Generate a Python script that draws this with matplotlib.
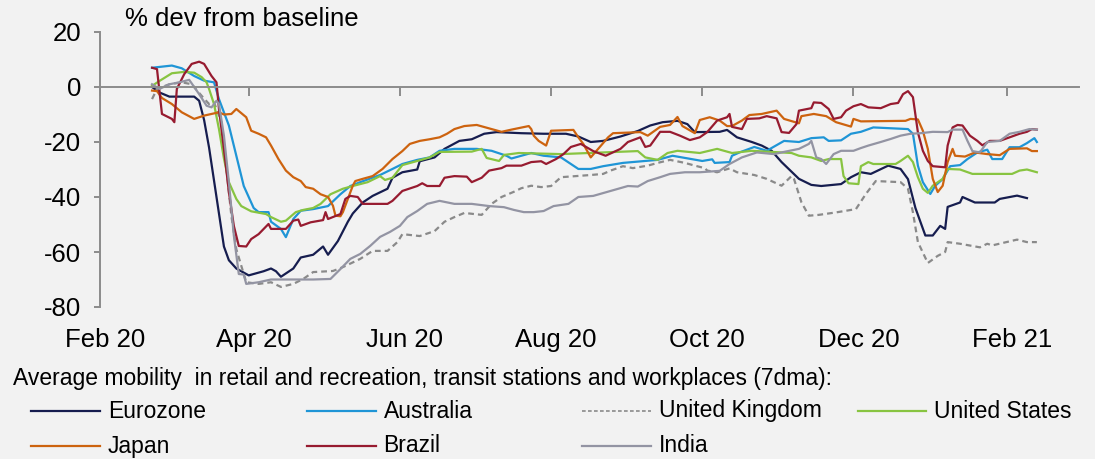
import matplotlib
matplotlib.use("Agg")
import matplotlib.pyplot as plt
import matplotlib.dates as mdates
import pandas as pd
from matplotlib.lines import Line2D
from matplotlib.transforms import blended_transform_factory

plt.rcParams['font.family'] = ['Liberation Sans', 'DejaVu Sans']
plt.rcParams['axes.unicode_minus'] = False

# ---- data: % deviation from baseline, 7dma ----
ez_dates = ["2020-02-22", "2020-02-25", "2020-02-29", "2020-03-10", "2020-03-12", "2020-03-14", "2020-03-16",
            "2020-03-20", "2020-03-22", "2020-03-24", "2020-03-27", "2020-04-01", "2020-04-07", "2020-04-10",
            "2020-04-12", "2020-04-14", "2020-04-19", "2020-04-22", "2020-04-27", "2020-05-01", "2020-05-03",
            "2020-05-07", "2020-05-11", "2020-05-13", "2020-05-17", "2020-05-21", "2020-05-27", "2020-05-29",
            "2020-06-02", "2020-06-08", "2020-06-09", "2020-06-15", "2020-06-19", "2020-06-25", "2020-06-30",
            "2020-07-05", "2020-07-10", "2020-07-20", "2020-07-29", "2020-08-07", "2020-08-12", "2020-08-17",
            "2020-08-22", "2020-08-29", "2020-09-05", "2020-09-10", "2020-09-15", "2020-09-21", "2020-09-25",
            "2020-09-28", "2020-10-08", "2020-10-11", "2020-10-15", "2020-10-21", "2020-10-25", "2020-10-29",
            "2020-11-02", "2020-11-09", "2020-11-14", "2020-11-18", "2020-11-26", "2020-11-30", "2020-12-04",
            "2020-12-08", "2020-12-15", "2020-12-20", "2020-12-23", "2020-12-26", "2020-12-30", "2021-01-02",
            "2021-01-05", "2021-01-07", "2021-01-08", "2021-01-13", "2021-01-14", "2021-01-19", "2021-01-27",
            "2021-01-29", "2021-02-05", "2021-02-09"]
ez_vals = [0, -2, -3.5, -3.5, -5, -12, -22, -46, -58, -63, -66, -68.5, -67, -66, -67, -69, -66, -62, -61, -58,
           -61, -56, -49, -46, -42, -39.6, -37, -33, -31, -30, -27, -25.6, -22.5, -19.6, -19, -17, -16.4, -16.8,
           -17, -17, -18, -20, -19.6, -18, -16, -14, -12.8, -12.3, -13.5, -16.4, -16.3, -15.6, -18.3, -20,
           -21.3, -23.2, -27.3, -33.4, -35.6, -36, -35.3, -32.8, -31, -31.6, -28.6, -29.8, -33.5, -44, -54, -54,
           -50.5, -51.6, -43.6, -42, -40, -42, -42, -40.7, -39.5, -40.4]

au_dates = ["2020-02-22", "2020-03-01", "2020-03-05", "2020-03-10", "2020-03-14", "2020-03-18", "2020-03-20",
            "2020-03-24", "2020-03-27", "2020-03-30", "2020-04-03", "2020-04-05", "2020-04-09", "2020-04-10",
            "2020-04-14", "2020-04-16", "2020-04-19", "2020-04-22", "2020-04-27", "2020-05-03", "2020-05-08",
            "2020-05-12", "2020-05-16", "2020-05-24", "2020-05-29", "2020-06-02", "2020-06-08", "2020-06-13",
            "2020-06-17", "2020-06-23", "2020-07-02", "2020-07-08", "2020-07-14", "2020-07-16", "2020-07-24",
            "2020-07-29", "2020-08-05", "2020-08-09", "2020-08-12", "2020-08-17", "2020-08-22", "2020-08-30",
            "2020-09-13", "2020-09-19", "2020-10-01", "2020-10-05", "2020-10-06", "2020-10-12", "2020-10-13",
            "2020-10-16", "2020-10-22", "2020-10-27", "2020-11-03", "2020-11-09", "2020-11-14", "2020-11-19",
            "2020-11-21", "2020-11-26", "2020-11-30", "2020-12-04", "2020-12-09", "2020-12-23", "2020-12-25",
            "2020-12-27", "2020-12-29", "2021-01-01", "2021-01-03", "2021-01-06", "2021-01-09", "2021-01-13",
            "2021-01-16", "2021-01-20", "2021-01-24", "2021-01-26", "2021-01-30", "2021-02-02", "2021-02-06",
            "2021-02-09", "2021-02-12", "2021-02-13"]
au_vals = [7, 7.8, 6.8, 4, 2.3, 1.7, -4.4, -14, -25, -36, -44, -45.5, -45.5, -49, -51.6, -54.6, -48, -45, -44.4,
           -43.3, -39, -36, -34.6, -32, -29.8, -28, -26.5, -25.6, -23.2, -22.5, -22.5, -23.2, -25, -26, -24, -25,
           -25.6, -28, -29.8, -29.8, -28.8, -27.6, -26.5, -25, -26.9, -26.3, -27.6, -27.3, -25, -23.8, -21.8,
           -23.2, -19.6, -20, -18.6, -18.3, -19.6, -19.4, -17, -16.3, -14.7, -15.3, -17, -28.6, -34.6, -38.9,
           -35.9, -33.5, -28.8, -28.4, -26.2, -23.8, -22.8, -26.2, -26.2, -21.9, -21.9, -20.4, -18.6, -20]

uk_dates = ["2020-02-22", "2020-02-24", "2020-02-29", "2020-03-05", "2020-03-09", "2020-03-13", "2020-03-16",
            "2020-03-18", "2020-03-21", "2020-03-23", "2020-03-25", "2020-03-27", "2020-03-29", "2020-03-31",
            "2020-04-05", "2020-04-10", "2020-04-14", "2020-04-19", "2020-04-23", "2020-04-27", "2020-05-05",
            "2020-05-09", "2020-05-16", "2020-05-21", "2020-05-27", "2020-05-31", "2020-06-02", "2020-06-09",
            "2020-06-15", "2020-06-19", "2020-06-23", "2020-06-27", "2020-07-04", "2020-07-08", "2020-07-12",
            "2020-07-17", "2020-07-20", "2020-07-24", "2020-07-28", "2020-08-01", "2020-08-05", "2020-08-17",
            "2020-08-22", "2020-08-25", "2020-08-30", "2020-09-03", "2020-09-09", "2020-09-13", "2020-09-18",
            "2020-09-24", "2020-09-28", "2020-10-02", "2020-10-03", "2020-10-07", "2020-10-12", "2020-10-15",
            "2020-10-22", "2020-10-27", "2020-11-02", "2020-11-06", "2020-11-07", "2020-11-10", "2020-11-13",
            "2020-11-17", "2020-11-24", "2020-12-02", "2020-12-06", "2020-12-10", "2020-12-20", "2020-12-23",
            "2020-12-25", "2020-12-27", "2020-12-31", "2021-01-04", "2021-01-07", "2021-01-08", "2021-01-13",
            "2021-01-21", "2021-01-24", "2021-01-26", "2021-02-05", "2021-02-09", "2021-02-13"]
uk_vals = [-4.4, -0.7, 1, 1.7, 1, -3.2, -6.2, -5.6, -12.8, -29.8, -46.8, -59, -65, -71, -71.6, -71, -72.7,
           -71.6, -69.8, -67.3, -66.9, -65.5, -62.5, -59.6, -59.6, -56.4, -53.5, -54.2, -52.4, -49, -47.3,
           -45.8, -46.5, -42.5, -40, -38.1, -36.8, -35.9, -36.4, -36, -32.8, -32, -31.6, -30.4, -28.8, -29.5,
           -28.6, -27.6, -26.5, -27.6, -28.6, -29.5, -30.4, -31, -29.6, -31, -32, -33.4, -35.9, -32.4, -33.4,
           -41.9, -46.8, -46.5, -45.6, -44.4, -38.9, -34.2, -34.6, -37, -45.6, -56.4, -64, -61.4, -60, -56.4,
           -57, -58.3, -57, -57.6, -55.5, -56.4, -56.4]

us_dates = ["2020-02-22", "2020-02-25", "2020-03-01", "2020-03-06", "2020-03-10", "2020-03-13", "2020-03-15",
            "2020-03-16", "2020-03-18", "2020-03-20", "2020-03-22", "2020-03-24", "2020-03-27", "2020-03-29",
            "2020-04-02", "2020-04-08", "2020-04-10", "2020-04-14", "2020-04-16", "2020-04-20", "2020-04-23",
            "2020-04-27", "2020-04-30", "2020-05-04", "2020-05-09", "2020-05-13", "2020-05-19", "2020-05-24",
            "2020-05-26", "2020-05-29", "2020-06-02", "2020-06-08", "2020-06-13", "2020-06-17", "2020-06-30",
            "2020-07-04", "2020-07-06", "2020-07-11", "2020-07-13", "2020-07-19", "2020-08-05", "2020-09-05",
            "2020-09-08", "2020-09-13", "2020-09-17", "2020-09-21", "2020-09-30", "2020-10-07", "2020-10-13",
            "2020-10-21", "2020-11-06", "2020-11-09", "2020-11-14", "2020-11-18", "2020-11-21", "2020-11-26",
            "2020-11-27", "2020-11-29", "2020-12-03", "2020-12-04", "2020-12-07", "2020-12-09", "2020-12-18",
            "2020-12-20", "2020-12-23", "2020-12-25", "2020-12-27", "2020-12-29", "2020-12-31", "2021-01-02",
            "2021-01-06", "2021-01-08", "2021-01-13", "2021-01-18", "2021-02-03", "2021-02-06", "2021-02-09",
            "2021-02-13"]
us_vals = [0.4, 2.2, 5, 5.5, 5.2, 3.6, 1.7, -0.7, -6.2, -15.3, -26, -34.6, -40.7, -43.3, -45.2, -46.2, -47.3,
           -49, -48.6, -45.5, -44.7, -44, -42.5, -39, -37, -36, -34.6, -32.4, -33.8, -33, -28.4, -26.9, -25.6,
           -23.6, -23.5, -22.5, -25.8, -26.9, -24.7, -24, -24.4, -23.3, -25.6, -26.5, -24, -23.2, -24, -22.5,
           -24, -23.2, -24, -25, -25.6, -26.9, -26.2, -26.2, -32.4, -35, -35.3, -28.8, -27.3, -28, -28, -26.9,
           -25, -27.3, -32.8, -37, -38.5, -35.9, -33.4, -29.8, -30, -31.6, -31.6, -30.4, -30, -31]

jp_dates = ["2020-02-22", "2020-02-24", "2020-02-26", "2020-03-01", "2020-03-05", "2020-03-10", "2020-03-14",
            "2020-03-20", "2020-03-22", "2020-03-25", "2020-03-27", "2020-03-31", "2020-04-02", "2020-04-05",
            "2020-04-08", "2020-04-10", "2020-04-13", "2020-04-16", "2020-04-19", "2020-04-22", "2020-04-24",
            "2020-04-27", "2020-04-30", "2020-05-03", "2020-05-05", "2020-05-06", "2020-05-08", "2020-05-09",
            "2020-05-11", "2020-05-13", "2020-05-14", "2020-05-17", "2020-05-21", "2020-05-25", "2020-05-29",
            "2020-06-02", "2020-06-05", "2020-06-09", "2020-06-13", "2020-06-17", "2020-06-20", "2020-06-23",
            "2020-06-27", "2020-07-02", "2020-07-08", "2020-07-12", "2020-07-16", "2020-07-23", "2020-07-24",
            "2020-07-25", "2020-07-27", "2020-07-30", "2020-08-01", "2020-08-10", "2020-08-12", "2020-08-14",
            "2020-08-17", "2020-08-20", "2020-08-24", "2020-08-26", "2020-09-06", "2020-09-09", "2020-09-14",
            "2020-09-18", "2020-09-21", "2020-09-23", "2020-09-28", "2020-09-30", "2020-10-04", "2020-10-08",
            "2020-10-11", "2020-10-13", "2020-10-17", "2020-10-20", "2020-10-25", "2020-10-31", "2020-11-03",
            "2020-11-09", "2020-11-10", "2020-11-15", "2020-11-20", "2020-11-24", "2020-11-30", "2020-12-01",
            "2020-12-04", "2020-12-22", "2020-12-24", "2020-12-27", "2020-12-29", "2020-12-31", "2021-01-02",
            "2021-01-04", "2021-01-06", "2021-01-08", "2021-01-10", "2021-01-11", "2021-01-15", "2021-01-19",
            "2021-01-24", "2021-01-29", "2021-02-02", "2021-02-09", "2021-02-11", "2021-02-13"]
jp_vals = [-1.3, -1.5, -4, -6.2, -9.2, -11.6, -10.4, -9.2, -10, -9.8, -8, -11, -15.9, -17, -18.3, -21.3, -26.2,
           -30.4, -32.8, -34.2, -36.4, -37, -39, -40, -43.2, -46.8, -47, -45.5, -40.7, -35.9, -34.2, -33.4,
           -32.4, -29.8, -26.2, -23.3, -20.7, -19.6, -19, -18.3, -17, -15.3, -14.2, -13.8, -15.3, -16.3, -15.5,
           -14.2, -15.3, -17.7, -19.6, -21.3, -15.9, -15.6, -18.3, -20.7, -25.6, -22.5, -18.3, -16.8, -16.4,
           -17.7, -14.5, -13.8, -10.9, -14.2, -16.8, -12, -11, -12.2, -14.2, -14.2, -12.2, -10.2, -9.8, -8.6,
           -11.6, -13.2, -10.6, -9.8, -10.6, -12.8, -14.4, -11.6, -12.5, -12.3, -11.6, -11.8, -15.9, -22.5,
           -33.4, -38.2, -35.9, -27.3, -22.5, -25, -25.3, -23.8, -24.4, -24.8, -22.5, -22.3, -23.3, -23.3]

br_dates = ["2020-02-22", "2020-02-24", "2020-02-26", "2020-03-01", "2020-03-02", "2020-03-03", "2020-03-06",
            "2020-03-09", "2020-03-12", "2020-03-14", "2020-03-17", "2020-03-19", "2020-03-20", "2020-03-22",
            "2020-03-24", "2020-03-26", "2020-03-28", "2020-03-31", "2020-04-02", "2020-04-05", "2020-04-09",
            "2020-04-10", "2020-04-16", "2020-04-19", "2020-04-21", "2020-04-22", "2020-04-26", "2020-05-01",
            "2020-05-02", "2020-05-03", "2020-05-08", "2020-05-10", "2020-05-12", "2020-05-15", "2020-05-17",
            "2020-05-27", "2020-05-29", "2020-06-02", "2020-06-08", "2020-06-10", "2020-06-12", "2020-06-17",
            "2020-06-19", "2020-06-23", "2020-06-28", "2020-06-30", "2020-07-04", "2020-07-07", "2020-07-12",
            "2020-07-14", "2020-07-20", "2020-07-24", "2020-07-28", "2020-07-30", "2020-08-03", "2020-08-06",
            "2020-08-09", "2020-08-13", "2020-08-18", "2020-08-23", "2020-08-29", "2020-09-01", "2020-09-06",
            "2020-09-08", "2020-09-10", "2020-09-14", "2020-09-18", "2020-09-22", "2020-09-26", "2020-09-30",
            "2020-10-03", "2020-10-07", "2020-10-11", "2020-10-12", "2020-10-13", "2020-10-17", "2020-10-19",
            "2020-10-24", "2020-10-27", "2020-10-31", "2020-11-02", "2020-11-05", "2020-11-08", "2020-11-09",
            "2020-11-14", "2020-11-15", "2020-11-18", "2020-11-21", "2020-11-23", "2020-11-26", "2020-11-28",
            "2020-12-01", "2020-12-04", "2020-12-07", "2020-12-12", "2020-12-16", "2020-12-19", "2020-12-21",
            "2020-12-23", "2020-12-25", "2020-12-27", "2020-12-29", "2020-12-31", "2021-01-02", "2021-01-07",
            "2021-01-08", "2021-01-10", "2021-01-12", "2021-01-14", "2021-01-17", "2021-01-20", "2021-01-22",
            "2021-01-25", "2021-01-29", "2021-02-02", "2021-02-06", "2021-02-09", "2021-02-11", "2021-02-13"]
br_vals = [7, 6.5, -9.8, -11.6, -12.8, -0.7, 4.7, 8.4, 9.2, 8.4, 4, 1.7, -8, -22.5, -38.2, -50.5, -57.8, -58,
           -55.3, -53.5, -49.8, -51.6, -51.6, -48.6, -48.2, -50.5, -49.2, -48.4, -45.5, -48, -46.2, -40.7,
           -39.6, -40, -42.5, -42.5, -41.4, -37.8, -36, -35, -36, -36, -33, -32.4, -32.6, -34.6, -33, -30.4,
           -29.5, -28.6, -28.6, -27.3, -27, -28, -26.2, -24.4, -21.8, -20.7, -23.3, -25, -22.5, -20, -18.3,
           -21.8, -21.3, -16.3, -16.3, -17.7, -19.3, -18.3, -16.4, -12.2, -11, -9.8, -14.5, -15.3, -11.6, -11.4,
           -10.6, -11.4, -16.4, -16.7, -13.5, -8.6, -7.7, -5.6, -5.8, -8, -11.6, -11, -8.6, -7, -6.2, -7.4,
           -7.7, -6.2, -5.8, -2.6, -1.5, -3.7, -16.5, -23.2, -26.9, -28.8, -29.2, -21.3, -14.7, -13.8, -14,
           -17.7, -19.6, -21.2, -19.6, -19.6, -18.3, -17, -16.3, -15.3, -15.5]

in_dates = ["2020-02-22", "2020-02-25", "2020-02-29", "2020-03-04", "2020-03-08", "2020-03-10", "2020-03-12",
            "2020-03-15", "2020-03-17", "2020-03-19", "2020-03-20", "2020-03-22", "2020-03-24", "2020-03-26",
            "2020-03-28", "2020-03-30", "2020-03-31", "2020-04-05", "2020-04-10", "2020-04-27", "2020-05-04",
            "2020-05-08", "2020-05-12", "2020-05-16", "2020-05-20", "2020-05-24", "2020-05-28", "2020-06-01",
            "2020-06-04", "2020-06-08", "2020-06-12", "2020-06-17", "2020-06-23", "2020-06-30", "2020-07-07",
            "2020-07-13", "2020-07-17", "2020-07-21", "2020-07-25", "2020-07-29", "2020-08-02", "2020-08-08",
            "2020-08-12", "2020-08-18", "2020-08-25", "2020-09-01", "2020-09-05", "2020-09-09", "2020-09-14",
            "2020-09-18", "2020-09-24", "2020-09-30", "2020-10-08", "2020-10-12", "2020-10-17", "2020-10-23",
            "2020-10-30", "2020-11-03", "2020-11-09", "2020-11-13", "2020-11-14", "2020-11-16", "2020-11-18",
            "2020-11-20", "2020-11-23", "2020-11-26", "2020-12-01", "2020-12-04", "2020-12-07", "2020-12-12",
            "2020-12-16", "2020-12-20", "2020-12-24", "2020-12-28", "2021-01-02", "2021-01-08", "2021-01-10",
            "2021-01-14", "2021-01-16", "2021-01-18", "2021-01-21", "2021-01-24", "2021-01-29", "2021-02-02",
            "2021-02-06", "2021-02-10", "2021-02-13"]
in_vals = [1, -0.7, 1, 1.7, 2.6, 0, -2.6, -6.8, -7.4, -5, -6.2, -17.7, -34.6, -54, -68, -68.2, -71.6, -71, -70,
           -70, -69.8, -66.2, -62.5, -60.7, -57.8, -54.5, -52.7, -50.5, -47.3, -45.1, -42.5, -41.4, -42.5,
           -42.5, -43.3, -43.7, -44.7, -45.5, -45.5, -45.1, -43.3, -42.5, -40, -39.6, -37.8, -36, -36.2, -34.2,
           -32.8, -31.6, -31, -31, -30.5, -28, -25.6, -23.8, -24.4, -23.6, -22.5, -20.7, -19.6, -25.6, -26.2,
           -28, -24.4, -23.2, -23.2, -22.2, -21.3, -20, -18.9, -17.7, -17, -16.8, -16.3, -16.4, -15.5, -15.5,
           -19.6, -23.3, -23.8, -20, -19.6, -17, -16.3, -15.3, -15.5]

names = ["Eurozone", "Australia", "United Kingdom", "United States", "Japan", "Brazil", "India"]
colors = ["#161d4f", "#1f95d6", "#8a8a8a", "#88c441", "#cd630f", "#971b30", "#9394a3"]
series_dates = [ez_dates, au_dates, uk_dates, us_dates, jp_dates, br_dates, in_dates]
series_vals = [ez_vals, au_vals, uk_vals, us_vals, jp_vals, br_vals, in_vals]

tick_dates = ["2020-02-01", "2020-04-01", "2020-06-01", "2020-08-01", "2020-10-01", "2020-12-01", "2021-02-01"]
tick_labels = ["Feb 20", "Apr 20", "Jun 20", "Aug 20", "Oct 20", "Dec 20", "Feb 21"]

BG = "#f2f2f2"
AXC = "#8c8c8c"
W, H = 1095, 459

fig = plt.figure(figsize=(W / 100, H / 100), dpi=100, facecolor=BG)
ax = fig.add_axes([100 / W, 1 - 307 / H, 979 / W, 275 / H], facecolor=BG)

for name, c, d, v in zip(names, colors, series_dates, series_vals):
    ls = (0, (2.6, 1.8)) if name == "United Kingdom" else "-"
    ax.plot(pd.to_datetime(d), v, color=c, lw=1.6, ls=ls, solid_joinstyle="round")

ax.set_xlim(pd.Timestamp("2020-02-01"), pd.Timestamp("2021-03-02"))
ax.set_ylim(-80, 20)
ax.set_yticks(range(-80, 21, 20))
ax.set_xticks(pd.to_datetime(tick_dates))

ax.spines[["top", "right"]].set_visible(False)
ax.spines["bottom"].set_position(("data", 0))
for s in ["left", "bottom"]:
    ax.spines[s].set_color(AXC)
    ax.spines[s].set_linewidth(1.4)
ax.tick_params(axis="y", direction="out", length=4.5, width=1.4, color=AXC, pad=9, labelsize=18.5)
ax.tick_params(axis="x", direction="out", length=6.5, width=1.4, color=AXC, labelbottom=False)

# month labels sit under the plot, not on the zero line
trans = blended_transform_factory(ax.transData, ax.transAxes)
for t, lab in zip(pd.to_datetime(tick_dates), tick_labels):
    ax.text(mdates.date2num(t) + 2, -0.12, lab, transform=trans, ha="center", va="center", fontsize=18.5)

fig.text(125 / W, 1 - 19 / H, "% dev from baseline", ha="left", va="center", fontsize=18.5)

# legend block, laid out like the original (4 equal columns)
fig.text(13 / W, 1 - 379 / H,
         "Average mobility  in retail and recreation, transit stations and workplaces (7dma):",
         ha="left", va="center", fontsize=16.5)
for i, (name, c) in enumerate(zip(names, colors)):
    row, col = divmod(i, 4)
    x0 = 31 + col * 275.5
    y = 1 - (411 + row * 35) / H
    ls = (0, (2.2, 1.4)) if name == "United Kingdom" else "-"
    lw = 1.2 if name == "United Kingdom" else 1.6
    fig.add_artist(Line2D([x0 / W, (x0 + 69) / W], [y, y], color=c, lw=lw, ls=ls,
                          transform=fig.transFigure))
    fig.text((x0 + 77) / W, y, name, ha="left", va="center", fontsize=16.5)

fig.savefig("out.png", dpi=100, facecolor=BG)
